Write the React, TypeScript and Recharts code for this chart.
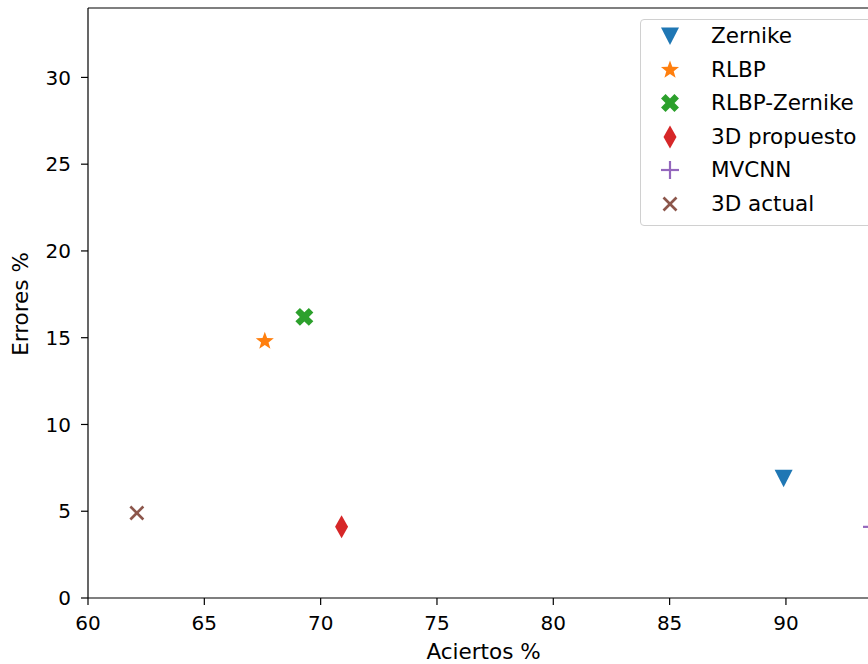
import {
  ReferenceLine,
  Scatter,
  ScatterChart,
  XAxis,
  YAxis,
} from "recharts";

const seriesNames = [
  "Zernike",
  "RLBP",
  "RLBP-Zernike",
  "3D propuesto",
  "MVCNN",
  "3D actual",
];
const aciertos = [89.9, 67.6, 69.3, 70.9, 93.7, 62.1];
const errores = [6.9, 14.8, 16.2, 4.1, 4.1, 4.9];
const seriesColors = [
  "#1f77b4",
  "#ff7f0e",
  "#2ca02c",
  "#d62728",
  "#9467bd",
  "#8c564b",
];
const markerKinds = ["v", "*", "X", "d", "+", "x"];

const xTicks = [60, 65, 70, 75, 80, 85, 90];
const yTicks = [0, 5, 10, 15, 20, 25, 30];

const FONT = "DejaVu Sans";

function rotatePoints(pts: number[][], deg: number) {
  const r = (deg * Math.PI) / 180;
  return pts.map(([x, y]) => [
    x * Math.cos(r) - y * Math.sin(r),
    x * Math.sin(r) + y * Math.cos(r),
  ]);
}

function Marker({
  kind,
  cx,
  cy,
  color,
}: {
  kind: string;
  cx: number;
  cy: number;
  color: string;
}) {
  if (kind === "v") {
    return (
      <polygon
        points={`${cx - 9},${cy - 8.5} ${cx + 9},${cy - 8.5} ${cx},${cy + 9}`}
        fill={color}
      />
    );
  }
  if (kind === "*") {
    const pts: string[] = [];
    for (let i = 0; i < 10; i++) {
      const rad = i % 2 === 0 ? 9.5 : 3.9;
      const a = (-90 + i * 36) * (Math.PI / 180);
      pts.push(`${cx + rad * Math.cos(a)},${cy + rad * Math.sin(a)}`);
    }
    return <polygon points={pts.join(" ")} fill={color} />;
  }
  if (kind === "X") {
    const L = 9.5;
    const a = 3.2;
    const plus = [
      [-a, -L], [a, -L], [a, -a], [L, -a], [L, a], [a, a],
      [a, L], [-a, L], [-a, a], [-L, a], [-L, -a], [-a, -a],
    ];
    const pts = rotatePoints(plus, 45)
      .map(([x, y]) => `${cx + x},${cy + y}`)
      .join(" ");
    return <polygon points={pts} fill={color} />;
  }
  if (kind === "d") {
    return (
      <polygon
        points={`${cx},${cy - 11.5} ${cx + 6.5},${cy} ${cx},${cy + 11.5} ${cx - 6.5},${cy}`}
        fill={color}
      />
    );
  }
  if (kind === "+") {
    return (
      <g stroke={color} strokeWidth={2.2}>
        <line x1={cx - 9} y1={cy} x2={cx + 9} y2={cy} />
        <line x1={cx} y1={cy - 9} x2={cx} y2={cy + 9} />
      </g>
    );
  }
  return (
    <g stroke={color} strokeWidth={2.6}>
      <line x1={cx - 6.5} y1={cy - 6.5} x2={cx + 6.5} y2={cy + 6.5} />
      <line x1={cx - 6.5} y1={cy + 6.5} x2={cx + 6.5} y2={cy - 6.5} />
    </g>
  );
}

function YTitle() {
  return (
    <text
      x={28}
      y={304}
      transform="rotate(-90, 28, 304)"
      textAnchor="middle"
      fontFamily={FONT}
      fontSize={21.5}
      fill="#000"
    >
      Errores %
    </text>
  );
}

function XTitle() {
  return (
    <text
      x={483.5}
      y={659}
      textAnchor="middle"
      fontFamily={FONT}
      fontSize={21.5}
      fill="#000"
    >
      Aciertos %
    </text>
  );
}

export default function App() {
  const tickStyle = { fill: "#000", fontSize: 20, fontFamily: FONT };

  return (
    <div
      style={{
        position: "absolute",
        left: 0,
        top: 0,
        width: 868,
        height: 664,
        overflow: "hidden",
        background: "#fff",
      }}
    >
      <ScatterChart
        width={900}
        height={664}
        margin={{ top: 8, right: 21, bottom: 0, left: 0 }}
      >
        <XAxis
          type="number"
          dataKey="x"
          domain={[60, 94]}
          ticks={xTicks}
          allowDataOverflow
          height={66}
          tickSize={7}
          tickMargin={11}
          tick={tickStyle}
          stroke="#000"
          strokeWidth={1.2}
          label={<XTitle />}
        />
        <YAxis
          type="number"
          dataKey="y"
          domain={[0, 34]}
          ticks={yTicks}
          allowDataOverflow
          width={88}
          tickSize={7}
          tickMargin={10}
          tick={tickStyle}
          stroke="#000"
          strokeWidth={1.2}
          label={<YTitle />}
        />
        <ReferenceLine y={34} stroke="#000" strokeWidth={1.2} />
        {seriesNames.map((name, i) => (
          <Scatter
            key={name}
            name={name}
            data={[{ x: aciertos[i], y: errores[i] }]}
            fill={seriesColors[i]}
            isAnimationActive={false}
            shape={(props: any) => (
              <Marker
                kind={markerKinds[i]}
                cx={props.cx}
                cy={props.cy}
                color={seriesColors[i]}
              />
            )}
          />
        ))}
      </ScatterChart>

      <div
        style={{
          position: "absolute",
          left: 640,
          top: 19,
          width: 240,
          height: 205,
          border: "1px solid #d0d0d0",
          borderRadius: 4,
          background: "#fff",
          fontFamily: FONT,
          fontSize: 21.5,
          color: "#000",
        }}
      >
        {seriesNames.map((name, i) => {
          const cy = 16 + i * 33.6;
          return (
            <div key={name}>
              <svg
                width={30}
                height={30}
                style={{ position: "absolute", left: 14, top: cy - 15 }}
              >
                <Marker
                  kind={markerKinds[i]}
                  cx={15}
                  cy={15}
                  color={seriesColors[i]}
                />
              </svg>
              <div
                style={{
                  position: "absolute",
                  left: 70,
                  top: cy - 13,
                  height: 26,
                  lineHeight: "26px",
                  whiteSpace: "nowrap",
                }}
              >
                {name}
              </div>
            </div>
          );
        })}
      </div>
    </div>
  );
}
